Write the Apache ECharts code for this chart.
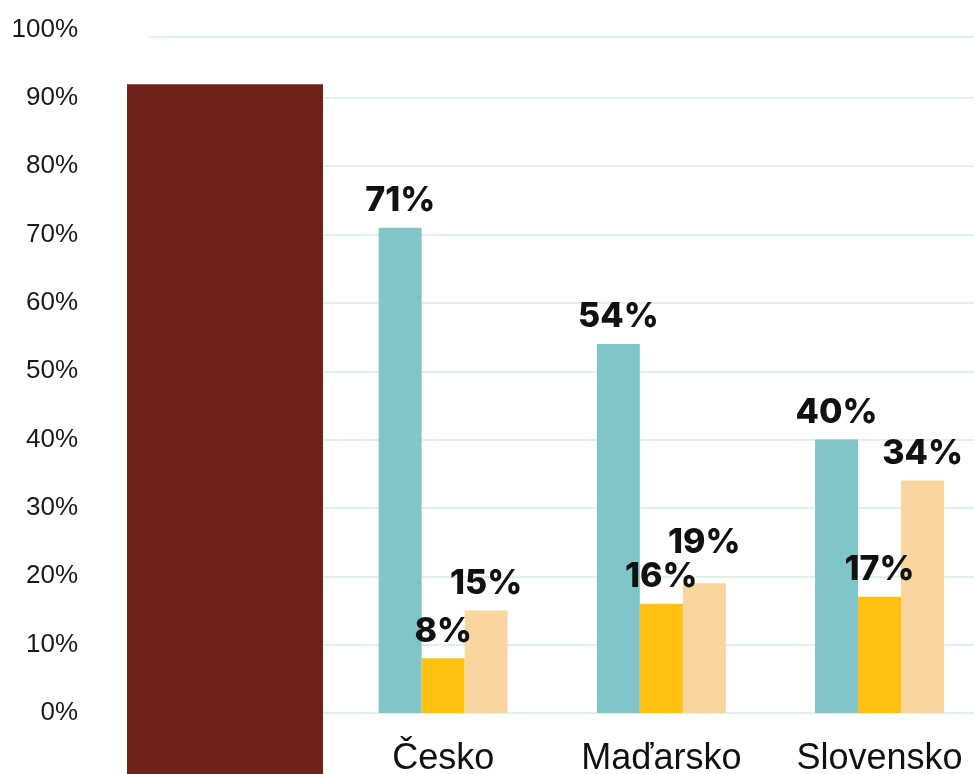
<!DOCTYPE html>
<html>
<head>
<meta charset="utf-8">
<script src="https://cdn.jsdelivr.net/npm/echarts@6/dist/echarts.min.js"></script>
<style>
  html, body { margin: 0; padding: 0; background: #ffffff; }
  #chart { width: 974px; height: 774px; }
</style>
</head>
<body>
<div id="chart"></div>
<script>
// Categories (first slot holds the dark highlight column)
const countries = ['', 'Česko', 'Maďarsko', 'Slovensko'];

// Shares per country, in percent
const tealValues   = ['-', 71, 54, 40];
const yellowValues = ['-', 8, 16, 17];
const peachValues  = ['-', 15, 19, 34];

// Dark highlight column: height above zero and the part running below the axis
const highlightTop  = [92, '-', '-', '-'];
const highlightBase = [-10, '-', '-', '-'];

// Value axis ticks
const yMin = 0, yMax = 100, yStep = 10;

const gridColor = '#e2f1e8';
const labelFont = 'Inter, "Noto Sans", sans-serif';

// Bar grid geometry: 0 % at y = 713, 100 % at y = 29.5, -10 % just below the page
const barTop = 29.5;
const unitPx = (713 - barTop) / 100;
const barHeight = unitPx * 110;

const chart = echarts.init(document.getElementById('chart'), null, { renderer: 'canvas' });

function valueLabel(extra) {
  return Object.assign({
    show: true,
    position: 'top',
    distance: 10,
    formatter: p => p.value + '%',
    fontFamily: labelFont,
    fontWeight: 800,
    fontSize: 34,
    color: '#111111'
  }, extra || {});
}

const peachData = peachValues.map((v, i) =>
  countries[i] === 'Maďarsko' ? { value: v, label: { offset: [0, -13] } } : v);

chart.setOption({
  animation: false,
  backgroundColor: '#ffffff',
  grid: [
    // tick labels and horizontal grid lines
    { left: 150, right: 0, top: barTop, bottom: 61, outerBoundsMode: 'none', containLabel: false },
    // bars
    { left: 115.9, width: 872.7, top: barTop, height: barHeight, outerBoundsMode: 'none', containLabel: false },
    // thin strip carrying the top rule
    { left: 150, right: 0, top: 37, height: 1, outerBoundsMode: 'none', containLabel: false }
  ],
  xAxis: [
    {
      gridIndex: 2, type: 'category', data: [''], position: 'top',
      axisLine: { show: true, onZero: false, lineStyle: { color: gridColor, width: 2 } },
      axisTick: { show: false }, axisLabel: { show: false }, splitLine: { show: false }
    },
    {
      // country names, lifted from the grid's bottom edge up to the zero line
      gridIndex: 1, type: 'category', data: countries, position: 'bottom',
      offset: -unitPx * 10,
      axisLine: { show: false, onZero: false },
      axisTick: { show: false },
      axisLabel: {
        margin: 28, fontSize: 36, color: '#111111',
        fontFamily: '"Liberation Sans", Arial, sans-serif'
      }
    },
    {
      gridIndex: 1, type: 'category', data: countries, show: false
    },
    {
      gridIndex: 0, type: 'category', data: [''], show: false
    }
  ],
  yAxis: [
    {
      gridIndex: 0, type: 'value', min: yMin, max: yMax, interval: yStep,
      axisLine: { show: false }, axisTick: { show: false },
      axisLabel: {
        margin: 72, fontSize: 26, color: '#1a1a1a',
        fontFamily: '"Liberation Sans", Arial, sans-serif',
        formatter: v => v + '%'
      },
      splitLine: { show: true, showMaxLine: false, lineStyle: { color: gridColor, width: 2 } }
    },
    {
      gridIndex: 1, type: 'value', min: -10, max: yMax, interval: yStep, show: false,
      splitLine: { show: false }
    },
    {
      gridIndex: 2, type: 'value', show: false, splitLine: { show: false }
    }
  ],
  series: [
    {
      name: 'highlight', type: 'bar', xAxisIndex: 2, yAxisIndex: 1, stack: 'hl',
      barWidth: 196, data: highlightTop, itemStyle: { color: '#712218' }, z: 10
    },
    {
      name: 'highlight-base', type: 'bar', xAxisIndex: 2, yAxisIndex: 1, stack: 'hl',
      barWidth: 196, data: highlightBase, itemStyle: { color: '#712218' }, z: 10
    },
    {
      name: 'teal', type: 'bar', xAxisIndex: 1, yAxisIndex: 1,
      barWidth: 43, barGap: '0%', data: tealValues,
      itemStyle: { color: '#80c6c8' }, label: valueLabel()
    },
    {
      name: 'yellow', type: 'bar', xAxisIndex: 1, yAxisIndex: 1,
      barWidth: 43, barGap: '0%', data: yellowValues,
      itemStyle: { color: '#fec112' }, label: valueLabel()
    },
    {
      name: 'peach', type: 'bar', xAxisIndex: 1, yAxisIndex: 1,
      barWidth: 43, barGap: '0%', data: peachData,
      itemStyle: { color: '#fad5a0' }, label: valueLabel()
    }
  ]
});
</script>
</body>
</html>
